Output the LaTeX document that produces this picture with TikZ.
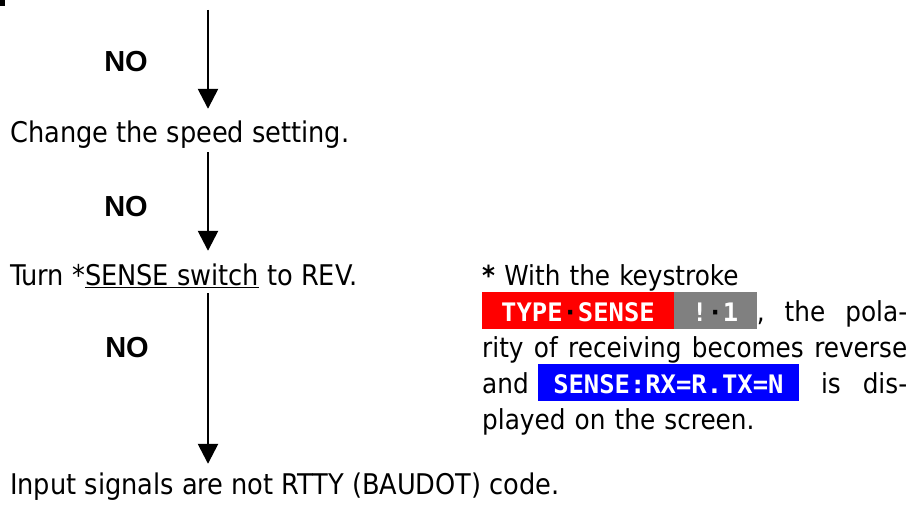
\documentclass[tikz,border=0pt]{standalone}
\usepackage{fontspec}
\setmainfont{DejaVu Sans Condensed}
\newfontfamily\nofont{Liberation Sans}
\newfontfamily\keyfont{DejaVu Sans Mono}
\usetikzlibrary{arrows.meta}
\definecolor{keyred}{RGB}{255,0,0}
\definecolor{keygrey}{RGB}{128,128,128}
\definecolor{keyblue}{RGB}{0,0,255}
\lineskiplimit=-30pt
\newcommand{\keycap}[3]{{\setlength{\fboxsep}{0pt}\colorbox{#1}{\rule[-8pt]{0pt}{37pt}\keyfont\bfseries\fontsize{25.5}{30}\selectfont\color{white}\hspace{#2}#3\hspace{#2}}}}
\newcommand{\kdot}{{\color{black}·}}
\newcommand{\fullline}[1]{\makebox[425pt][l]{#1}}
\tikzset{
  flowline/.style={line width=2.6pt, -{Triangle[width=20pt,length=20pt,sep=6pt]}},
  flowtext/.style={anchor=base west, inner sep=0pt, text height=20pt, text depth=7pt, font=\fontsize{28.5}{36}\selectfont},
  nolabel/.style={font=\nofont\bfseries\fontsize{29}{30}\selectfont, inner sep=0pt},
  notetext/.style={anchor=base west, inner sep=0pt, text width=425pt, align=left, font=\fontsize{27.5}{36}\selectfont}
}

\begin{document}
\begin{tikzpicture}[x=1pt,y=-1pt]
			%%%%% START %%%%%
			\useasboundingbox (0,0) rectangle (913,505);
			\fill[black] (0,0) rectangle (5,6);

			\coordinate (col) at (208,10);

			\node[flowtext] (speed) at (10,143) {Change the speed setting.};
			\node[flowtext] (sense) at (10,285) {Turn *\underline{SENSE switch} to REV.};
			\node[flowtext] (input) at (10,494) {Input signals are not RTTY (BAUDOT) code.};

			\draw[flowline, shorten >=8pt] (col) -- (speed.north -| col);
			\draw[flowline, shorten <=2pt, shorten >=8pt] (speed.south -| col) -- (sense.north -| col);
			\draw[flowline, shorten <=1pt, shorten >=4pt] (sense.south -| col) -- (input.north -| col);

			\node[nolabel] (no1) at (126,62) {NO};
			\node[nolabel] (no2) at (126,207) {NO};
			\node[nolabel] (no3) at (127,348) {NO};

			\node[notetext] (note) at (482,285) {\textbf{*} With the keystroke\\
				\fullline{\keycap{keyred}{19pt}{TYPE\kdot SENSE}\keycap{keygrey}{18.5pt}{!\kdot 1},\hfill the\hfill pola-}\\
				\fullline{rity\hfill of\hfill receiving\hfill becomes\hfill reverse}\\
				\fullline{and\hspace{9pt}\keycap{keyblue}{15.5pt}{SENSE:RX=R.TX=N}\hfill is\hfill dis-}\\
				played on the screen.};
			%%%%% END %%%%%
\end{tikzpicture}
\end{document}
